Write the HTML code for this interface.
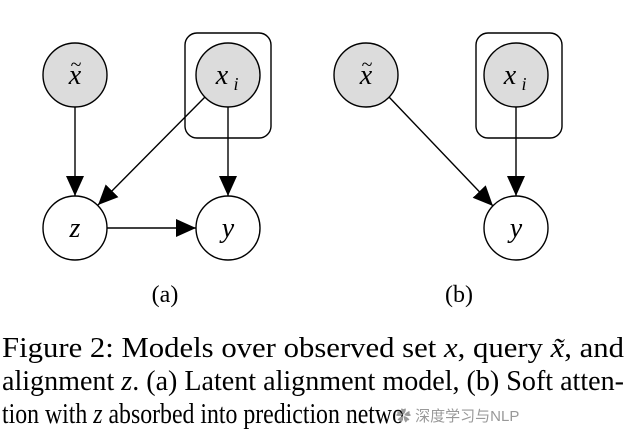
<!DOCTYPE html><html><head><style>body{margin:0;background:#fff}svg{display:block}</style></head><body>
<svg width="640" height="437" xmlns="http://www.w3.org/2000/svg" font-family="Liberation Serif, serif">
<defs>
<marker id="m" markerWidth="20" markerHeight="18" refX="20" refY="9" orient="auto" markerUnits="userSpaceOnUse"><path d="M0,0L20,9L0,18z" fill="#000"/></marker></defs>
<g stroke="#000" stroke-width="1.4">
<rect x="185" y="33" width="86" height="105" rx="12" fill="none"/>
<rect x="476" y="33" width="86" height="105" rx="12" fill="none"/>
<circle cx="75" cy="75" r="32" fill="#dcdcdc"/>
<circle cx="228" cy="75" r="32" fill="#dcdcdc"/>
<circle cx="75" cy="228" r="32" fill="#fff"/>
<circle cx="228" cy="228" r="32" fill="#fff"/>
<circle cx="366" cy="75" r="32" fill="#dcdcdc"/>
<circle cx="516" cy="75" r="32" fill="#dcdcdc"/>
<circle cx="516" cy="228" r="32" fill="#fff"/>
<line x1="75" y1="107" x2="75" y2="196" marker-end="url(#m)"/>
<line x1="228" y1="107" x2="228" y2="196" marker-end="url(#m)"/>
<line x1="205" y1="97" x2="98" y2="205" marker-end="url(#m)"/>
<line x1="107" y1="228" x2="196" y2="228" marker-end="url(#m)"/>
<line x1="516" y1="107" x2="516" y2="196" marker-end="url(#m)"/>
<line x1="389" y1="97" x2="493" y2="206" marker-end="url(#m)"/>
</g>
<g font-style="italic" font-size="28" text-anchor="middle">
<text x="75" y="84">x</text><text x="76" y="71" font-style="normal" font-size="20">~</text>
<text x="366" y="84">x</text><text x="367" y="71" font-style="normal" font-size="20">~</text>
<text x="222" y="84">x</text><text x="236" y="90" font-size="18">i</text>
<text x="510" y="84">x</text><text x="524" y="90" font-size="18">i</text>
<text x="75" y="237">z</text>
<text x="228" y="237">y</text>
<text x="516" y="237">y</text>
</g>
<g font-size="24" text-anchor="middle"><text x="165" y="302">(a)</text><text x="459" y="302">(b)</text></g>
<g font-size="29">
<text x="2" y="357" textLength="622" lengthAdjust="spacingAndGlyphs">Figure 2:  Models over observed set <tspan font-style="italic">x</tspan>, query <tspan font-style="italic">x̃</tspan>, and</text>
<text x="2" y="390" textLength="622" lengthAdjust="spacingAndGlyphs">alignment <tspan font-style="italic">z</tspan>. (a) Latent alignment model, (b) Soft atten-</text>
<text x="2" y="423" textLength="402" lengthAdjust="spacingAndGlyphs">tion with <tspan font-style="italic">z</tspan> absorbed into prediction netwo</text>
</g>
<text x="396" y="421" font-size="15" fill="#999" font-family="Liberation Sans, Noto Sans CJK SC, sans-serif">✿ 深度学习与NLP</text>
</svg>
</body></html>
